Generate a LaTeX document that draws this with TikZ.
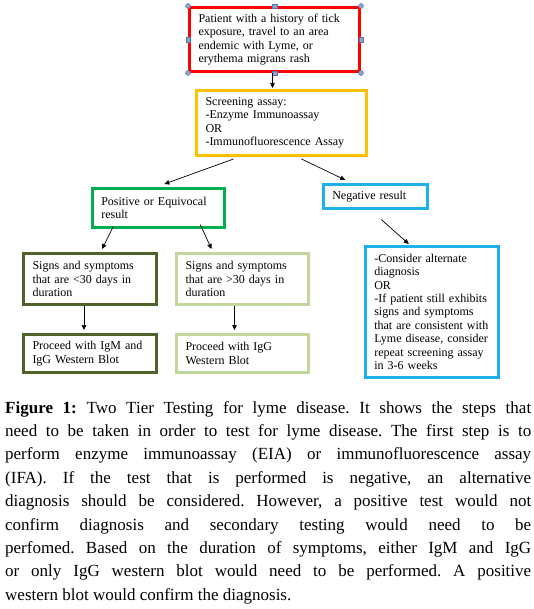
\documentclass[tikz,border=0pt]{standalone}
\usepackage{fontspec}
\setmainfont{Liberation Serif}
\usetikzlibrary{arrows.meta,calc}
\definecolor{cred}{HTML}{FF0000}
\definecolor{cyellow}{HTML}{FFC000}
\definecolor{cgreen}{HTML}{00B050}
\definecolor{cblue}{HTML}{1CB0EC}
\definecolor{colive}{HTML}{4F6228}
\definecolor{clight}{HTML}{C3D69B}
\definecolor{hfill}{HTML}{8AA4CF}
\definecolor{hedge}{HTML}{5A76A8}
\tikzset{
  box/.style={draw, rectangle, anchor=north west, align=left, inner xsep=9pt, inner ysep=0pt,
    line width=2.6pt, font=\fontsize{12}{13.4}\selectfont},
  conn/.style={draw, line width=0.7pt, -{Triangle[length=5pt,width=4.5pt]}},
  hcirc/.style={circle, fill=hfill, draw=hedge, line width=0.4pt, inner sep=0pt, minimum size=5pt},
  hsq/.style={rectangle, fill=hfill, draw=hedge, line width=0.4pt, inner sep=0pt, minimum size=4.5pt},
  capt/.style={anchor=north west, inner sep=0pt, text width=526pt, align=justify,
    font=\fontsize{17}{23.4}\selectfont\frenchspacing}
}
\begin{document}
\begin{tikzpicture}[x=1pt,y=-1pt]
\useasboundingbox[fill=white] (0,0) rectangle (533,609);

\node[box, draw=cred, line width=3pt, minimum width=170pt, minimum height=64pt, text width=152pt] (red) at (188,6)
  {Patient with a history of tick\\exposure, travel to an area\\endemic with Lyme, or\\erythema migrans rash};
\node[box, draw=cyellow, line width=3pt, minimum width=170pt, minimum height=65pt, text width=152pt] (yellow) at (195,89)
  {Screening assay:\\-Enzyme Immunoassay\\OR\\-Immunofluorescence Assay};
\node[box, draw=cgreen, minimum width=132pt, minimum height=39pt, text width=114pt] (green) at (91,187)
  {Positive or Equivocal\\result};
\node[box, draw=cblue, minimum width=104pt, minimum height=24pt, text width=86pt] (neg) at (322,183)
  {Negative result};
\node[box, draw=colive, line width=3pt, minimum width=133pt, minimum height=51pt, text width=115pt] (lt) at (22,252)
  {Signs and symptoms\\that are <30 days in\\duration};
\node[box, draw=clight, line width=3pt, minimum width=132pt, minimum height=51pt, text width=114pt] (gt) at (175,252)
  {Signs and symptoms\\that are >30 days in\\duration};
\node[box, draw=colive, line width=3pt, minimum width=133pt, minimum height=38pt, text width=115pt] (ltb) at (22,333)
  {Proceed with IgM and\\IgG Western Blot};
\node[box, draw=clight, line width=3pt, minimum width=132pt, minimum height=38pt, text width=114pt] (gtb) at (175,333)
  {Proceed with IgG\\Western Blot};
\node[box, draw=cblue, minimum width=133pt, minimum height=131pt, text width=115pt] (alt) at (364,245)
  {-Consider alternate\\diagnosis\\OR\\-If patient still exhibits\\signs and symptoms\\that are consistent with\\Lyme disease, consider\\repeat screening assay\\in 3-6 weeks};

% selection handles on the first box
\node[hcirc] (h1) at (red.north west) {};
\node[hcirc] (h2) at (red.north east) {};
\node[hcirc] (h3) at (red.south west) {};
\node[hcirc] (h4) at (red.south east) {};
\node[hsq] (h5) at (red.north) {};
\node[hsq] (h6) at (red.south) {};
\node[hsq] (h7) at (red.west) {};
\node[hsq] (h8) at (red.east) {};

% connectors
\draw[conn] ([xshift=-2pt]red.south) -- ([xshift=-9pt,yshift=1pt]yellow.north);
\draw[conn] ([xshift=-48pt,yshift=-2pt]yellow.south) -- ([xshift=6pt,yshift=3pt]green.north);
\draw[conn] ([xshift=20pt,yshift=-2pt]yellow.south) -- ([xshift=-30pt,yshift=3pt]neg.north);
\draw[conn] ([xshift=6pt,yshift=-10pt]neg.south) -- ([xshift=-23pt,yshift=1pt]alt.north);
\draw[conn] ([xshift=-45pt,yshift=2pt]green.south) -- ([xshift=12pt,yshift=3pt]lt.north);
\draw[conn] ([xshift=42pt,yshift=4pt]green.south) -- ([xshift=-31pt,yshift=3pt]gt.north);
\draw[conn] ([xshift=-6pt]lt.south) -- ([xshift=-6pt,yshift=3pt]ltb.north);
\draw[conn] ([xshift=-8pt]gt.south) -- ([xshift=-8pt,yshift=3pt]gtb.north);

% caption
\node[capt] (cap) at (5,401) {\noindent\textbf{Figure 1:} Two Tier Testing for lyme disease. It shows the steps that\linebreak
need to be taken in order to test for lyme disease. The first step is to\linebreak
perform enzyme immunoassay (EIA) or immunofluorescence assay\linebreak
(IFA). If the test that is performed is negative, an alternative\linebreak
diagnosis should be considered. However, a positive test would not\linebreak
confirm diagnosis and secondary testing would need to be\linebreak
perfomed. Based on the duration of symptoms, either IgM and IgG\linebreak
or only IgG western blot would need to be performed. A positive\linebreak
western blot would confirm the diagnosis.};
\end{tikzpicture}
\end{document}
